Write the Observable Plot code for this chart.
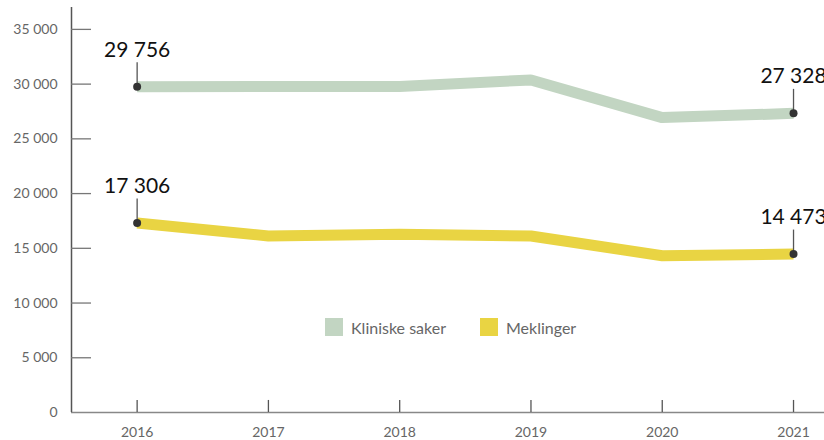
<!DOCTYPE html>
<html><head><meta charset="utf-8">
<script src="https://cdn.jsdelivr.net/npm/d3@7"></script>
<script src="https://cdn.jsdelivr.net/npm/@observablehq/plot@0.6"></script>
<style>
body{margin:0;background:#fff;}
#wrap{position:relative;width:824px;height:440px;overflow:hidden;font-family:Lato,sans-serif;}
.item{position:absolute;top:318px;display:flex;align-items:center;font-size:16px;color:#666;height:18px;}
.item .sw{width:18px;height:18px;display:inline-block;margin-right:8px;}
</style></head><body><div id="wrap"></div>
<script>
const years = [2016, 2017, 2018, 2019, 2020, 2021];
const kliniske = [29756, 29780, 29780, 30380, 26940, 27328];
const meklinger = [17306, 16130, 16280, 16130, 14320, 14473];
const seriesNames = ["Kliniske saker", "Meklinger"];
const seriesColors = ["#c2d5c2", "#e9d443"];
const yTicks = [0, 5000, 10000, 15000, 20000, 25000, 30000, 35000];

const fmt = v => d3.format(",")(v).replace(/,/g, " ");
const rows = [];
years.forEach((y, i) => {
  rows.push({year: y, value: kliniske[i], series: seriesNames[0]});
  rows.push({year: y, value: meklinger[i], series: seriesNames[1]});
});
const ends = rows.filter(d => d.year === years[0] || d.year === years[years.length - 1]);

const yTop = 37000;
const xLeft = 2015.5, xRight = 2021.236;

const chart = Plot.plot({
  width: 824, height: 440,
  marginLeft: 71, marginRight: 0, marginTop: 7, marginBottom: 28,
  style: {fontFamily: "Lato, sans-serif", background: "#fff", overflow: "visible"},
  x: {type: "linear", domain: [xLeft, xRight], axis: null},
  y: {domain: [0, yTop], axis: null},
  color: {domain: seriesNames, range: seriesColors},
  marks: [
    Plot.axisY(yTicks, {anchor: "left", label: null, tickSize: 0, tickPadding: 14, fontSize: 14, fill: "#666", tickFormat: fmt}),
    Plot.axisX(years, {anchor: "bottom", label: null, tickSize: 0, tickPadding: 15, fontSize: 14, fill: "#666", tickFormat: d => String(d)}),
    Plot.ruleY([0], {x1: xLeft, x2: xRight, stroke: "#888", strokeWidth: 1.5}),
    Plot.ruleX([xLeft], {y1: 0, y2: yTop, stroke: "#555", strokeWidth: 1.5}),
    Plot.ruleY(yTicks.filter(t => t > 0), {y: d => d, x1: xLeft, x2: xLeft + 20 / 131.26, stroke: "#777", strokeWidth: 1.3}),
    Plot.ruleX(years, {x: d => d, y1: 0, y2: 1100, stroke: "#555", strokeWidth: 1.3}),
    Plot.line(rows, {x: "year", y: "value", z: "series", stroke: "series", strokeWidth: 11, strokeLinecap: "butt", strokeLinejoin: "miter"}),
    Plot.ruleX(ends, {x: "year", y1: "value", y2: "value", insetTop: 0, insetBottom: 24, stroke: "#555", strokeWidth: 1.3}),
    Plot.dot(ends, {x: "year", y: "value", r: 4, fill: "#333"}),
    Plot.text(ends, {x: "year", y: "value", text: d => fmt(d.value), dy: -30, lineAnchor: "bottom", fontSize: 21, fill: "#111"})
  ]
});
const wrap = document.getElementById("wrap");
wrap.appendChild(chart);
const legendLeft = [325, 480];
seriesNames.forEach((n, i) => {
  const item = document.createElement("div");
  item.className = "item";
  item.style.left = legendLeft[i] + "px";
  const sw = document.createElement("span");
  sw.className = "sw";
  sw.style.background = seriesColors[i];
  item.appendChild(sw);
  item.appendChild(document.createTextNode(n));
  wrap.appendChild(item);
});
</script></body></html>
